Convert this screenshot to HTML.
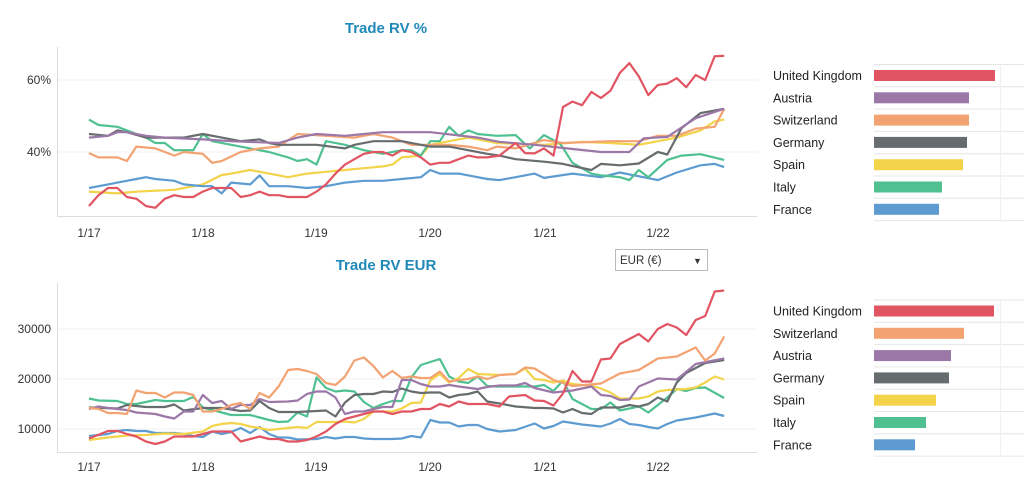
<!DOCTYPE html>
<html><head><meta charset="utf-8"><style>
body{margin:0;background:#fff;width:1024px;height:487px;overflow:hidden;font-family:"Liberation Sans",Arial,sans-serif}
svg text{font-family:"Liberation Sans",Arial,sans-serif}
</style></head><body>
<svg id="s" width="1024" height="487" xmlns="http://www.w3.org/2000/svg">
<rect width="1024" height="487" fill="#fff"/>
<text x="386" y="33" text-anchor="middle" font-size="15" font-weight="bold" fill="#2189b8">Trade RV %</text>
<text x="386" y="270" text-anchor="middle" font-size="15" font-weight="bold" fill="#2189b8">Trade RV EUR</text>
<line x1="57" y1="80" x2="757" y2="80" stroke="#f1f1f1"/>
<line x1="57" y1="152" x2="757" y2="152" stroke="#f1f1f1"/>
<line x1="57.5" y1="47" x2="57.5" y2="216" stroke="#ddd"/>
<line x1="57" y1="216.5" x2="757" y2="216.5" stroke="#ddd"/>
<g font-size="12" fill="#333" text-anchor="end"><text x="51" y="84">60%</text><text x="51" y="156">40%</text></g>
<line x1="57" y1="329" x2="757" y2="329" stroke="#f1f1f1"/>
<line x1="57" y1="379" x2="757" y2="379" stroke="#f1f1f1"/>
<line x1="57" y1="429" x2="757" y2="429" stroke="#f1f1f1"/>
<line x1="57.5" y1="283" x2="57.5" y2="452" stroke="#ddd"/>
<line x1="57" y1="452.5" x2="757" y2="452.5" stroke="#ddd"/>
<g font-size="12" fill="#333" text-anchor="end"><text x="51" y="333">30000</text><text x="51" y="383">20000</text><text x="51" y="433">10000</text></g>
<g id="ticks" font-size="12" fill="#333" text-anchor="middle"></g>
<g id="lines" fill="none" stroke-width="2.2" stroke-linejoin="round"></g>
<g id="leg" font-size="12.5" fill="#222"></g>
<rect x="615.5" y="249.5" width="92" height="21" fill="#fff" stroke="#bbb"/>
<text x="620" y="264" font-size="11.5" fill="#333">EUR (€)</text>
<text x="693" y="264" font-size="9" fill="#333">▼</text>
</svg>
<script>
(function(){
const NS="http://www.w3.org/2000/svg";
function el(p,t,a,txt){const e=document.createElementNS(NS,t);for(const k in a)e.setAttribute(k,a[k]);if(txt)e.textContent=txt;document.getElementById(p).appendChild(e);return e;}
const labs=["1/17","1/18","1/19","1/20","1/21","1/22"],tx=[89,203,316,430,545,658];
labs.forEach((l,i)=>{el("ticks","text",{x:tx[i],y:237},l);el("ticks","text",{x:tx[i],y:471},l);});
const C={uk:"#e15562",at:"#9b78a8",ch:"#f3a372",de:"#676c6f",es:"#f2d34a",it:"#4fc191",fr:"#5d9bd0"};
function P(s){const a=s.trim().split(/\s+/).map(Number),r=[];for(let i=0;i<a.length;i+=2)r.push([a[i],a[i+1]]);return r;}
const topD={
es:"0 29 3 28.5 5 29 9 29.5 12 31 14 33.6 15 34 17 35 19 34 21 33 23 34 25 34.5 27 35 29 35.5 31 36 32 36.5 33 38.5 35 39 36 42 38 43 40 44 42 43 43 42.5 48 42 52 42.8 55 42.5 58 42 60 43 62 44 64.5 46 66 48.5 67 49",
fr:"0 30 2 31 3 31.5 5 32.5 6 33 7 32.5 9 32 10 31 12 30.5 13 30.5 14 28.5 15 31.5 17 31 18 33.5 19 30.5 21 30.5 23 30 25 30.5 27 31.5 29 32 31 32 33 32.5 35 33 36 35 37 34 39 34 41 33 42 32.5 43.3 32.2 45 33 47 34 48 32.8 51 34 54 33 56 34.3 60 32.2 62 34.3 64.5 36.3 66 36.7 67 35.8",
it:"0 49 1 47.5 3 47 4 46 6 44 7 42.5 8 42.5 9 40.5 11 40.5 12 45 13 43 15 42 17 41 19 40 21 38.5 22 37.5 23 38 24 36.5 25 43 27 42 29 40.5 31 39.5 33 40.5 34 40.5 35 39 36 43 37 43 38 47 39 44.5 40 46 41 45 43 44.5 45 44.7 46.5 41 48 44.7 49.7 42.3 51 37 53 34 54 33.5 56 33 57 32.2 58 35 59 33 61 37.8 62.5 39 64.5 39.4 67 37.8",
ch:"0 39.7 1 38.5 3 38.5 4 37.5 5 41.5 7 41 9 39 10 40 12 39.5 13 37 14 37.5 16 40 18 41 20 41.5 22 45 25 44.5 28 44 30 45 32 44 34 42 36 42 38 42 40 41.5 42 40.5 43 41.5 45 41 48 43.3 50 42.5 55 43 58 43 60 44.5 62 44.5 64 46.5 66 47 67 52",
de:"0 45 2 44.5 3 46 4 45.5 6 44 8 44 10 44 12 45 14 44 16 43 18 43.5 19 42.5 20 42 24 42 27 41 28 42 30 43 33 43 36 41.5 38 41.5 40 40.5 42 39.5 43.3 39 45 38 48 37.3 50 36.7 53 35 54 36.7 56 36.3 58 36.8 60 40 61 39.3 62.5 46.6 64.5 50.8 67 52",
at:"0 44 2 44.5 3 45.5 4 45.5 6 44.5 8 44 12 43.5 15 43 20 42.5 22 44 24 45 27 44.5 29 45 31 45.5 36 45.5 41 44 43.3 42.8 47 42 50.4 41 54 40 57 40 58.5 43.8 61 44.2 64 49.4 67 52",
uk:"0 25 1 28 2 30 3 30 4 27.5 5 27 6 25 7 24.5 8 27 9 28 10 27.5 11 27.5 12 29 13 30 14 30 15 30 16 27.5 17 28 18 29 19 28 20 28 21 27.5 22 27.5 23 27.5 24 29 25 31 26 34 27 36.5 28 38 29 39.5 30 40 31 40 32 39 33 40.5 34 40 35 38.5 36 36.5 37 37 38 37 39 38 40 39 41 38.5 42 38.5 43.3 39 45 42.5 46 39.7 47 39.6 48 41 49 39 50 52.5 51 54 52 53 53 56.7 54 55 55 57 56 62 57 64.7 58 61 59 55.8 60 58.6 61 59 62 60.5 63 58 64 61.4 65 60 66 66.6 67 66.7"};
const botD={
fr:"0 8.6 2 9 3 9.6 4 9.8 5 9.6 6 9.6 7 9.2 9 9.2 10 9 11 8.6 12 8.4 13 9.5 14 9 15 9.4 16 10.2 17 9.2 18 10.4 19 9 20 8.3 21 8.3 22 7.9 24 8 25 8.4 26 8.1 27 8.4 28 8.4 29 8.1 30 8 32 8 33 8.1 34 8.6 35 8.3 36 11.8 37 11.3 38 11.3 39 10.5 40 10.8 41 10.8 42 10 43.3 9.5 45 9.8 47 11.1 48 10.1 49 10.6 50 11.5 52 10.9 54 10.5 55 11.1 56 12 57 11 58 10.8 59 10.4 60 10.1 61 11 62 11.7 64 12.3 66 13.1 67 12.6",
it:"0 16.1 1 15.7 3 15.6 4 15 5 15 7 15.8 8 15.6 10 15.6 11 16.4 12 14.3 13 13.8 15 12.8 17 12.8 18 12.3 19 11.8 20 11.4 21 11.5 22 13.3 23 12.5 24 20.3 25 18.2 26 17.5 27 17.7 28 17.5 29 15.4 30 14.2 31 15 32 15.6 33 15.6 34 20.3 35 22.8 37 24 38 20.5 39 19.5 40 19.2 41 20.5 42 18.6 43 18.5 45 18.5 47 18.5 48 18.8 49 17.6 50 19.7 51 16 53 14 54 14 55 15.3 56 13.7 58 14.5 59 13.3 61 16.3 62 18 63 17.6 64 18.2 65 18.3 67 16.2",
es:"0 7.8 2 8.3 4 8.7 6 8.8 8 9.1 10 9 12 9.5 13 10.6 14 11 15 11.2 16 11 17 10.5 18 10.2 19 9.8 20 10 21 10.2 22 10.4 23 10.2 24 11.4 26 11.4 27 11.5 28 11.3 29 12 30 13.5 32 13.5 33 14.1 34 15.2 35 15.3 36 19.7 37 21 38 19.3 39 20.2 40 22 41 21 43.3 20.8 45 21 46 22.1 47 20 48 19.8 49 19.3 50 19.7 51 19 52 18.8 53 18.7 54 18.1 55 17.3 56 16.1 58 16.1 59 16.5 60 17.5 61 17.8 63 18 64 18.3 65 19.3 66 20.5 67 19.9",
de:"0 14.3 3 14.1 4 14.8 6 14.4 8 14.4 9 14.9 10 13.7 12 14.2 14 14.2 16 13.6 17 13.7 18 15.6 19 14.2 20 13.4 22 13.4 24 13.6 25 13.7 26 12.5 27 15.3 28 16.8 29 17 30 17 31 17.5 32 17.4 33 18.1 34 17.5 35 17.2 36 17.3 37 17.3 38 16.3 39 16.8 40 17 41 17.5 42 15.5 43.3 15.1 45 14.5 47 14.2 48 14.2 49 14.1 50 13.3 51 14 52 13.2 53 13 54 14.3 56 14.3 57 14.8 58 14.5 59 15 60 16.3 61 15.5 62 19.3 63 21.2 64 22.2 65 23.2 67 23.8",
at:"0 14 1 14.5 2 14.2 3 14 4 13.8 5 13.3 7 13 8 12.5 9 12.1 10 13.5 11 13.5 12 16.8 13 15.2 14 15.6 15 14 16 14.8 17 14.8 18 16 19 15.4 21 15.5 22 15.7 23 17 24 17.5 25 17.5 26 16.3 27 13 28 13.5 29 13.5 30 14 31 14.4 32 14.4 33 19.8 34 19.8 35 19 36 18.5 37 18.5 38 18.8 39 18.5 41 18 42 18.4 43.3 18.7 45 18.7 46 19.2 47 18.2 49 17.3 51 17.7 53 18.5 54 16.8 55 16.6 56 15.8 57 15.9 58 18.5 60 20.1 62 19.9 64 23 67 24.1",
ch:"0 14.2 1 14 2 13.2 3 13.2 4 13 5 17.7 6 17.2 7 17.2 8 16.3 9 17.3 10 17.3 11 16.8 12 13.5 13 13.5 14 14 15 14.8 16 15.2 17 14 18 17.2 19 16.3 20 18.5 21 21.8 22 22 23 21.6 24 21 25 19.2 26 18.8 27 20.5 28 23.7 29 24.3 30 22.6 31 20.3 32 21.6 33 20.2 34 20.5 35 20.2 36 20.2 37 21.5 38 19.5 39 19.8 40 20 41 20.5 42 20 43.3 20.8 45 21 46 22.3 47 22.1 49 19.8 51 18.6 54 19.1 56 21.1 58 21.8 60 24.1 62 24.5 64 26.3 65 23.7 66 25.1 67 28.5",
uk:"0 8.1 2 9.6 3 9.6 4 9 5 8.5 6 7.5 7 7 8 7.5 9 8.5 11 8.5 12 9 13 9.5 15 9.5 16 7.5 17 8 18 8.5 19 8 20 8 21 7.5 22 7.5 23 7.8 24 8.5 25 9.5 26 11 27 12 28 12.5 29 13 30 13.5 31 13.5 32 13 33 13.5 34 13.5 35 14 36 14 37 15 38 14.5 39 15.5 40 15 42 15 43.3 14.5 44.3 16.5 46 16.8 47 15.7 48 15.6 49 14.7 50 17.1 51 21.6 52 19.5 53 19.5 54 23.9 55 24.1 56 27 58 29 59 27.5 60 30 61 31 62 30.3 63 28.8 64 31.8 65 32.6 66 37.5 67 37.7"};
function draw(set,fy){for(const k in set){const pts=P(set[k]).map(p=>(89+p[0]*9.48).toFixed(1)+","+fy(p[1]).toFixed(1)).join(" ");el("lines","polyline",{points:pts,stroke:C[k]});}}
draw(topD,v=>152-(v-40)*3.6);
draw(botD,v=>379-(v-20)*5);
function legend(y0,rows){
  const step=22.3;
  for(let i=0;i<=rows.length;i++){el("leg","line",{x1:874,x2:1024,y1:y0-11+i*step,y2:y0-11+i*step,stroke:"#e6e6e6"});}
  el("leg","line",{x1:1000.5,x2:1000.5,y1:y0-11,y2:y0-11+rows.length*step,stroke:"#f0f0f0"});
  rows.forEach((r,i)=>{const y=y0+i*step;el("leg","text",{x:773,y:y+4.5},r[0]);el("leg","rect",{x:874,y:y-5.5,width:r[2]-874,height:11,fill:C[r[1]]});});
}
legend(75.5,[["United Kingdom","uk",995],["Austria","at",969],["Switzerland","ch",969],["Germany","de",967],["Spain","es",963],["Italy","it",942],["France","fr",939]]);
legend(311,[["United Kingdom","uk",994],["Switzerland","ch",964],["Austria","at",951],["Germany","de",949],["Spain","es",936],["Italy","it",926],["France","fr",915]]);
})();
</script>
</body></html>
